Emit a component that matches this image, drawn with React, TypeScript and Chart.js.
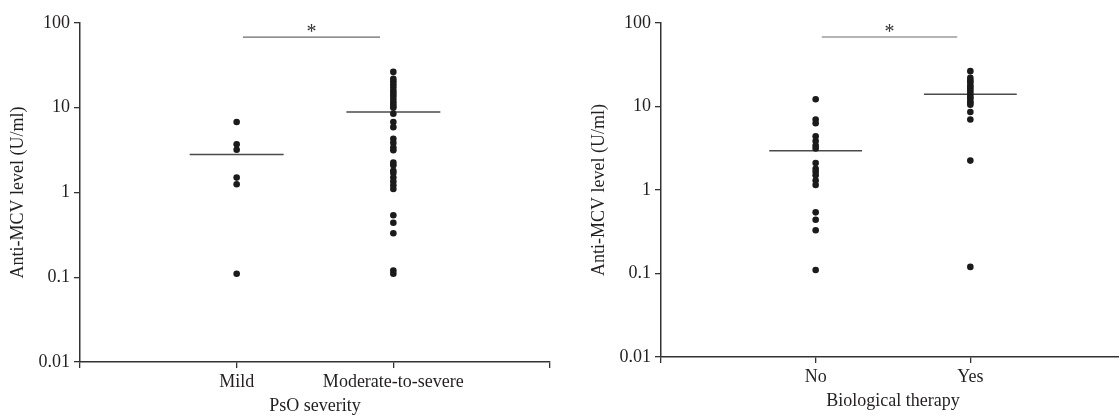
import React, { useEffect, useRef } from 'react';
import { Chart, registerables } from 'chart.js';

Chart.register(...registerables);

// ---------- data ----------
const yTitle = 'Anti-MCV level (U/ml)';
const yTicks = [0.01, 0.1, 1, 10, 100];

const leftTitle = 'PsO severity';
const leftCategories = ['Mild', 'Moderate-to-severe'];
const mildValues = [6.8, 3.7, 3.2, 1.5, 1.25, 0.11];
const moderateValues = [
  26.5, 22, 20.5, 19, 17.5, 16, 15, 14, 13, 12, 11.2, 10.5, 10,
  8.5, 6.8, 5.9, 4.3, 3.85, 3.4, 3.15, 2.25, 2.1, 1.8, 1.7, 1.5, 1.35, 1.22, 1.1,
  0.54, 0.44, 0.33, 0.12, 0.11,
];
const leftMeans = [2.8, 8.9];

const rightTitle = 'Biological therapy';
const rightCategories = ['No', 'Yes'];
const noValues = [12.2, 7.0, 6.3, 4.4, 3.85, 3.4, 3.15, 2.1, 1.8, 1.65, 1.5, 1.3, 1.15, 0.54, 0.44, 0.33, 0.11];
const yesValues = [26.5, 22, 20.5, 19.5, 18, 17, 16, 15, 14, 13, 12.5, 11.5, 11, 10.5, 8.6, 7.0, 2.25, 0.12];
const rightMeans = [2.95, 14];

// significance bracket (data units)
const sigFrom = 1.04;
const sigTo = 1.915;
const sigValue = 68;
const sigStarValue = 76;
const sigLabel = '*';

const meanHalfWidth = 0.3;

// ---------- styles ----------
const FONT = "'Liberation Serif', 'Times New Roman', serif";
const TEXT = '#231f20';
const AXIS = '#333333';

type PanelProps = {
  categories: string[];
  groups: number[][];
  means: number[];
  xTitle: string;
  left: number;
  top: number;
  padTop: number;
  padRight: number;
};

function Panel({ categories, groups, means, xTitle, left, top, padTop, padRight }: PanelProps) {
  const ref = useRef<HTMLCanvasElement>(null);

  useEffect(() => {
    if (!ref.current) return;
    const datasets: any[] = [];
    groups.forEach((vals, i) => {
      datasets.push({
        data: vals.map((v) => ({ x: i + 1, y: v })),
        pointRadius: 3.3,
        pointHoverRadius: 3.3,
        backgroundColor: '#1b1b1b',
        borderWidth: 0,
        showLine: false,
      });
    });
    means.forEach((m, i) => {
      datasets.push({
        data: [
          { x: i + 1 - meanHalfWidth, y: m },
          { x: i + 1 + meanHalfWidth, y: m },
        ],
        showLine: true,
        borderColor: '#4a4a4a',
        borderWidth: 1.5,
        pointRadius: 0,
      });
    });
    datasets.push({
      data: [
        { x: sigFrom, y: sigValue },
        { x: sigTo, y: sigValue },
      ],
      showLine: true,
      borderColor: '#6a6a6a',
      borderWidth: 1.2,
      pointRadius: 0,
    });

    const starPlugin = {
      id: 'sigStar',
      afterDatasetsDraw(chart: any) {
        const { ctx, scales } = chart;
        const x = scales.x.getPixelForValue((sigFrom + sigTo) / 2);
        const y = scales.y.getPixelForValue(sigStarValue);
        ctx.save();
        ctx.font = `20px ${FONT}`;
        ctx.fillStyle = '#333333';
        ctx.textAlign = 'center';
        ctx.textBaseline = 'middle';
        ctx.fillText(sigLabel, x, y);
        ctx.restore();
      },
    };

    const font = { family: FONT, size: 18 };

    const chart = new Chart(ref.current, {
      type: 'scatter',
      data: { datasets },
      plugins: [starPlugin],
      options: {
        responsive: false,
        animation: false,
        events: [],
        layout: { padding: { top: padTop, right: padRight, left: 0, bottom: 0 } },
        plugins: { legend: { display: false }, tooltip: { enabled: false } },
        scales: {
          x: {
            type: 'linear',
            min: 0,
            max: 3,
            afterBuildTicks: (s: any) => {
              s.ticks = [0, 1, 2, 3].map((v) => ({ value: v }));
            },
            afterFit: (s: any) => {
              s.height = 56;
            },
            ticks: {
              callback: (v: any) => categories[Number(v) - 1] ?? '',
              font,
              color: TEXT,
              padding: 3,
              maxRotation: 0,
              autoSkip: false,
            },
            grid: { drawOnChartArea: false, drawTicks: true, tickLength: 6, color: AXIS, lineWidth: 1.3 },
            border: { display: true, color: AXIS, width: 1.5 },
            title: { display: true, text: xTitle, font, color: TEXT, padding: { top: 0, bottom: 1 } },
          },
          y: {
            type: 'logarithmic',
            min: 0.01,
            max: 100,
            afterBuildTicks: (s: any) => {
              s.ticks = yTicks.map((v) => ({ value: v }));
            },
            afterFit: (s: any) => {
              s.width = 80;
            },
            ticks: {
              callback: (v: any) => String(v),
              font,
              color: TEXT,
              padding: 4,
              autoSkip: false,
            },
            grid: { drawOnChartArea: false, drawTicks: true, tickLength: 6, color: AXIS, lineWidth: 1.3 },
            border: { display: true, color: AXIS, width: 1.5 },
            title: { display: true, text: yTitle, font, color: TEXT, padding: { top: 7, bottom: 0 } },
          },
        },
      } as any,
    });
    return () => chart.destroy();
  }, []);

  return (
    <canvas
      ref={ref}
      width={560}
      height={418}
      style={{ position: 'absolute', left, top, width: 560, height: 418 }}
    />
  );
}

export default function App() {
  return (
    <div
      style={{
        position: 'absolute',
        left: 0,
        top: 0,
        width: 1119,
        height: 418,
        overflow: 'hidden',
        background: '#ffffff',
      }}
    >
      <Panel
        categories={leftCategories}
        groups={[mildValues, moderateValues]}
        means={leftMeans}
        xTitle={leftTitle}
        left={0}
        top={0}
        padTop={23}
        padRight={10}
      />
      <Panel
        categories={rightCategories}
        groups={[noValues, yesValues]}
        means={rightMeans}
        xTitle={rightTitle}
        left={581}
        top={-5}
        padTop={28}
        padRight={16}
      />
    </div>
  );
}
